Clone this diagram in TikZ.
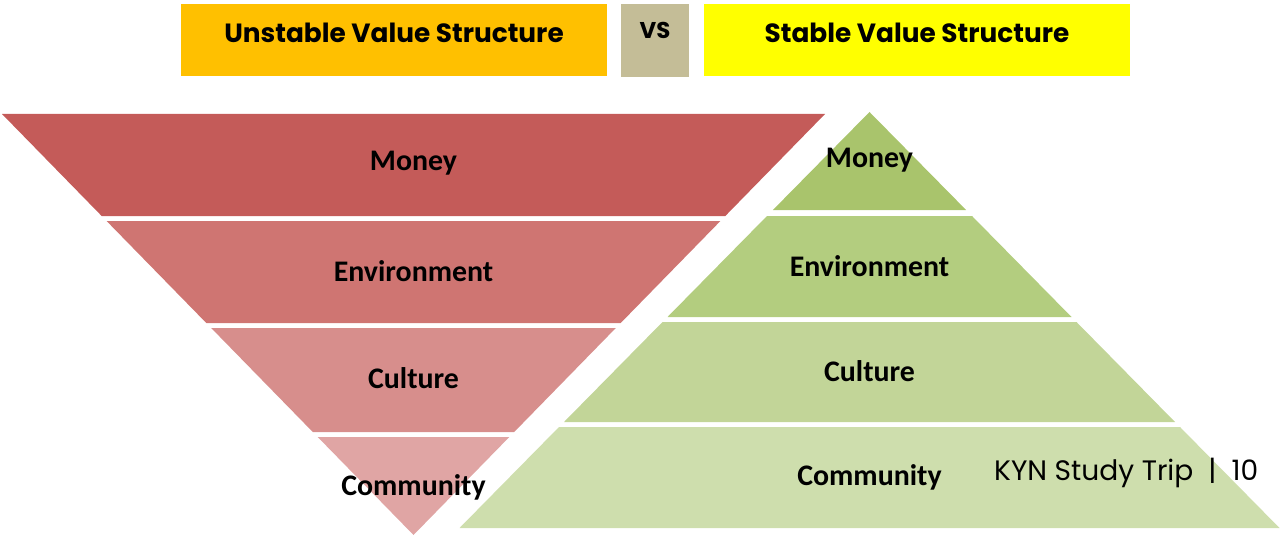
\documentclass[tikz,border=0pt]{standalone}
\usepackage{fontspec}
\setmainfont{Carlito}
\newfontfamily\gothic{Poppins}
\usetikzlibrary{positioning}

\definecolor{hdrorange}{HTML}{FFC000}
\definecolor{hdrtan}{HTML}{C4BD97}
\definecolor{hdryellow}{HTML}{FFFF00}
\definecolor{redA}{HTML}{C45B59}
\definecolor{redB}{HTML}{CF7572}
\definecolor{redC}{HTML}{D78E8C}
\definecolor{redD}{HTML}{E0A5A4}
\definecolor{grnA}{HTML}{A9C46C}
\definecolor{grnB}{HTML}{B3CD7F}
\definecolor{grnC}{HTML}{C2D598}
\definecolor{grnD}{HTML}{CEDEAD}

\begin{document}
\begin{tikzpicture}[x=0.02cm, y=-0.02cm, every node/.style={font=\fontsize{17}{19}\selectfont\bfseries}]
    \useasboundingbox (0,0) rectangle (1281,537);

    % Header boxes
    \fill[hdrorange] (181,4) rectangle (607,76);
    \fill[hdrtan] (621,4) rectangle (689,77);
    \fill[hdryellow] (704,4) rectangle (1130,76);
    \node[font=\gothic\fontsize{15}{17}\selectfont\bfseries] (unstable) at (394,33) {Unstable Value Structure};
    \node[font=\gothic\fontsize{13}{15}\selectfont\bfseries] (vs) at (655,30) {VS};
    \node[font=\gothic\fontsize{15}{17}\selectfont\bfseries] (stable) at (917,33) {Stable Value Structure};

    % Inverted pyramid, shared corners
    \coordinate (U_TL) at (2,114);      % top left
    \coordinate (U_TR) at (825,114);    % top right
    \coordinate (U_APEX) at (413.5,535);

    % 1. Money - dark red
    \fill[redA] (U_TL) -- (U_TR) -- (725.3,216) -- (101.7,216) -- cycle;
    \node (u_money) at (413.5,163) {Money};

    % 2. Environment - red
    \fill[redB] (106.6,221) -- (720.4,221) -- (620.7,323) -- (206.3,323) -- cycle;
    \node (u_env) at (413.5,271) {Environment};

    % 3. Culture - light red
    \fill[redC] (211.2,328) -- (615.8,328) -- (514.2,432) -- (312.8,432) -- cycle;
    \node (u_culture) at (413.5,378) {Culture};

    % 4. Community - pale red
    \fill[redD] (317.7,437) -- (509.3,437) -- (U_APEX) -- cycle;
    \node (u_community) at (413.5,487) {Community};

    % Upright pyramid, shared corners
    \coordinate (S_APEX) at (869.5,112);
    \coordinate (S_BL) at (459.5,528);  % base left
    \coordinate (S_BR) at (1279.5,528); % base right

    % 5. Money - dark green
    \fill[grnA] (S_APEX) -- (966.1,210) -- (772.9,210) -- cycle;
    \node (s_money) at (869.5,160) {Money};

    % 6. Environment - green
    \fill[grnB] (767,216) -- (972,216) -- (1071.5,317) -- (667.5,317) -- cycle;
    \node (s_env) at (869.5,266) {Environment};

    % 7. Culture - light green
    \fill[grnC] (662.5,322) -- (1076.5,322) -- (1175,422) -- (564,422) -- cycle;
    \node (s_culture) at (869.5,371) {Culture};

    % 8. Community - pale green
    \fill[grnD] (559,427) -- (1180,427) -- (S_BR) -- (S_BL) -- cycle;
    \node (s_community) at (869.5,477) {Community};

    % footer
    \node[anchor=west, font=\gothic\fontsize{16}{18}\selectfont] (trip) at (988,473) {KYN Study Trip~~|~~10};
\end{tikzpicture}
\end{document}
